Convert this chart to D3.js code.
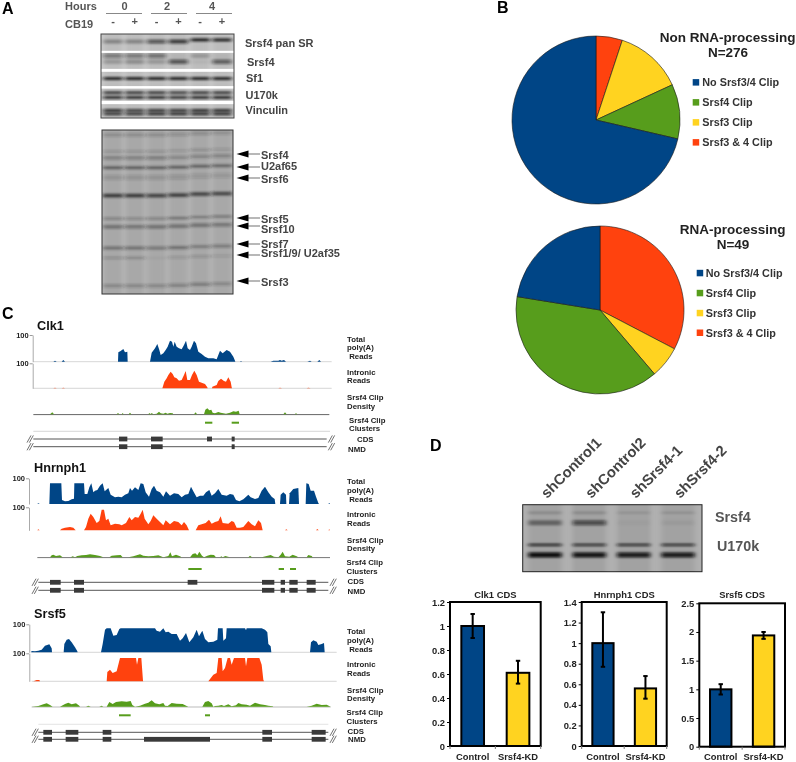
<!DOCTYPE html>
<html><head><meta charset="utf-8">
<script src="https://cdn.jsdelivr.net/npm/d3@7"></script>
<style>
html,body{margin:0;padding:0;background:#fff}
svg{display:block;filter:blur(0.35px)}
text{font-family:"Liberation Sans",Arial,sans-serif;font-weight:700}
</style></head><body>
<svg id="fig" width="796" height="762"></svg>
<script>
// ---------- Panel B data ----------
const clipCategories = ["No Srsf3/4 Clip","Srsf4 Clip","Srsf3 Clip","Srsf3 & 4 Clip"];
const clipColors = ["#004586","#579d1c","#ffd320","#ff420e"];
const pieNonRna = [197,29,36,14];
const pieRna = [11,19,3,16];

// ---------- Panel D data ----------
const barCategories = ["Control","Srsf4-KD"];
const barColors = ["#004586","#ffd320"];
const clk1Values = [1.0,0.61],    clk1Low = [0.9,0.52],   clk1High = [1.1,0.71];
const hnrnph1Values = [1.0,0.56], hnrnph1Low = [0.77,0.46], hnrnph1High = [1.3,0.68];
const srsf5Values = [1.0,1.94],   srsf5Low = [0.91,1.88], srsf5High = [1.09,2.0];
const clk1Ticks = ["0","0.2","0.4","0.6","0.8","1","1.2"];
const hnrnph1Ticks = ["0","0.2","0.4","0.6","0.8","1","1.2","1.4"];
const srsf5Ticks = ["0","0.5","1","1.5","2","2.5"];
const knockdownLanes = ["shControl1","shControl2","shSrsf4-1","shSrsf4-2"];

// ---------- Panel A data (band strength per lane; migration in % of blot height) ----------
const laneHours = ["0","2","4"];
const laneDrug = ["-","+","-","+","-","+"];
const blotRows = [
 [9,4,[.3,.3,.6,.75,.0,.0]],[7,3,[0,0,0,0,.95,.9]],
 [26,4.5,[.4,.4,.45,.05,.2,.05]],[33,4.5,[.2,.25,.2,.6,.05,.55]],
 [53,2.6,[1,1,1,1,1,1]],
 [70,2.4,[.85,.85,.85,.8,.85,.85]],[75.5,2.6,[.9,.9,.9,.85,.9,.95]],
 [91,2.6,[.9,.8,.85,.85,.9,.9]],[95,2.8,[.8,.8,.85,.85,.85,.85]]];
const blotGaps = [[20,22.5],[41.5,45],[62,65],[79.5,83.5]];
const stainRows = [
 [3,3.5,[.22,.22,.22,.2,.22,.2]],[13,2.2,[.2,.2,.22,.18,.25,.18]],[17,3.5,[.32,.32,.35,.28,.3,.28]],
 [23,2.8,[.6,.6,.6,.6,.58,.55]],[29,5,[.16,.16,.16,.16,.14,.14]],[40,3.8,[.85,.85,.8,.8,.75,.75]],
 [54,2.2,[.35,.3,.35,.5,.4,.45]],[59,3.6,[.45,.4,.45,.45,.45,.4]],
 [72,3.2,[.45,.45,.4,.45,.35,.35]],[78,2.4,[.22,.28,.05,.18,.22,.14]],[95,3.4,[.26,.26,.26,.32,.36,.26]]];
const stainShift = [0,0,0,-.5,-1.5,-2];
const blotLabels = ["Srsf4 pan SR","Srsf4","Sf1","U170k","Vinculin"];
const stainLabels = ["Srsf4","U2af65","Srsf6","Srsf5","Srsf10","Srsf7","Srsf1/9/ U2af35","Srsf3"];
const kdRows = [
 [12,2.2,[.2,.2,.12,.14]],[27,5,[.4,.6,.03,.05]],
 [60,2.4,[.85,.8,.8,.8]],[75,5,[1,.95,.9,.9]]];

// ---------- Panel C data: [genome position, track height] ----------
const clk1Total = [[160,0],[165,3],[170,0],[185,0],[190,5],[195,0],[354,0],[355,28],[362,32],[370,38],[375,28],[382,30],[383,0],
 [450,0],[451,5],[455,27],[465,40],[472,53],[478,35],[482,20],[490,25],[497,35],[503,45],[510,63],[516,60],[520,45],[524,60],[530,45],[537,40],[545,37],[552,50],[558,63],[563,40],[570,35],[575,45],[582,63],[588,55],[595,30],[605,23],[615,15],[625,10],[640,10],[650,7],[660,33],[668,25],[680,35],[690,30],[700,15],[705,3],[706,0],
 [720,0],[723,2],[726,0],[812,0],[820,3],[835,3],[840,5],[845,3],[852,5],[858,0],[922,0],[930,3],[935,0],[952,0],[958,5],[963,0]];
const clk1Intron = [[160,0],[165,2],[170,0],[185,0],[190,2],[195,0],[487,0],[488,3],[493,20],[500,30],[505,40],[512,50],[518,43],[523,33],[530,30],[537,23],[545,25],[552,40],[557,52],[562,25],[570,25],[576,40],[583,53],[590,40],[597,20],[605,17],[615,13],[622,3],[623,0],
 [636,0],[637,5],[650,10],[655,22],[663,29],[672,22],[678,20],[685,33],[692,20],[695,3],[696,0],[835,0],[840,2],[846,0],[920,0],[925,2],[932,0]];
const clk1Clip = [[150,0],[157,6],[162,0],[350,0],[354,4],[358,0],[365,0],[368,4],[371,0],[386,0],[390,5],[394,0],[445,0],[448,4],[451,1],[456,4],[459,0],[470,2],[477,8],[482,3],[490,2],[497,5],[502,2],[510,4],[518,3],[520,0],[582,0],[587,6],[591,0],[612,0],[616,14],[622,18],[628,12],[634,14],[638,5],[645,3],[655,7],[662,5],[670,3],[678,2],[690,5],[700,9],[708,8],[716,11],[719,0],[850,0],[855,6],[860,0],[885,0],[888,4],[891,0]];
const clk1Clusters = [[615,637],[695,717]];
const clk1Cds = [[357,382],[453,488],[621,636],[695,704]];
const clk1Nmd = [[357,382],[453,488],[695,704]];

const hnrnph1Total = [[112,0],[115,2],[119,0],[148,0],[150,62],[184,62],[186,12],[195,8],[205,9],[215,14],[222,16],[223,62],[252,62],[254,30],[262,30],[268,50],[274,62],[280,35],[285,40],[292,42],[300,55],[308,62],[314,38],[325,48],[332,28],[345,20],[355,22],[365,20],[375,28],[385,32],[390,48],[396,40],[405,50],[415,42],[422,62],[430,60],[437,35],[447,22],[455,45],[462,55],[470,40],[480,35],[490,22],[498,38],[510,25],[522,32],[535,30],[545,20],[555,28],[565,30],[573,52],[580,38],[590,20],[600,25],[610,25],[618,35],[628,42],[635,25],[645,32],[655,45],[665,28],[680,25],[690,30],[700,28],[708,12],[718,8],[730,14],[745,28],[752,20],[765,15],[775,18],[785,40],[795,52],[805,35],[815,22],[824,15],[826,0],[840,0],[842,28],[850,35],[858,28],[859,0],[867,0],[869,32],[880,45],[895,48],[897,0],[917,0],[919,62],[926,60],[932,40],[942,40],[948,22],[955,3],[957,0],[985,0],[988,3],[990,0]];
const hnrnph1Intron = [[112,0],[115,3],[119,0],[180,0],[185,5],[195,8],[210,10],[220,8],[227,0],[252,0],[258,10],[265,35],[272,50],[280,40],[290,22],[298,28],[305,62],[312,62],[318,30],[325,35],[332,15],[345,20],[358,18],[365,15],[378,22],[388,40],[395,30],[405,40],[415,38],[422,50],[428,62],[434,35],[445,18],[452,28],[460,45],[470,35],[480,25],[490,15],[497,30],[510,18],[522,28],[535,25],[545,15],[552,25],[560,15],[567,0],[587,0],[595,15],[605,18],[617,22],[627,32],[635,20],[645,25],[655,28],[662,42],[668,22],[685,20],[695,28],[702,25],[710,8],[720,8],[730,10],[745,28],[755,18],[765,12],[775,30],[783,22],[788,0],[855,0],[859,3],[863,0],[948,0],[952,4],[956,0],[985,0],[988,3],[990,0]];
const hnrnph1Clip = [[150,0],[155,6],[160,8],[168,4],[180,6],[188,0],[212,0],[218,3],[225,0],[232,4],[245,6],[258,7],[270,9],[285,7],[300,4],[310,0],[328,0],[335,5],[350,6],[362,7],[368,0],[385,0],[400,3],[420,9],[430,5],[445,3],[460,4],[475,6],[490,0],[505,4],[511,15],[516,3],[528,8],[540,3],[545,0],[570,0],[578,10],[586,12],[592,6],[598,17],[606,5],[612,0],[622,5],[632,8],[642,7],[648,0],[660,0],[664,3],[668,0],[676,4],[684,2],[690,0],[745,0],[750,5],[756,0],[785,0],[800,4],[812,7],[822,2],[835,0],[842,8],[848,17],[855,3],[868,2],[878,8],[890,3],[895,0],[920,0],[925,7],[935,4],[938,0]];
const hnrnph1Clusters = [[565,605],[836,852],[870,888]];
const hnrnph1Cds = [[150,182],[222,252],[563,592],[786,823],[842,855],[868,893],[920,947]];
const hnrnph1Nmd = [[150,182],[222,252],[786,823],[842,855],[868,893],[920,947]];

const srsf5Total = [[93,0],[95,4],[105,3],[115,5],[125,8],[135,20],[148,24],[155,12],[156,0],[191,0],[193,25],[200,38],[207,40],[215,30],[225,15],[232,3],[233,0],[303,0],[308,25],[315,68],[320,72],[332,72],[340,50],[350,52],[358,70],[362,72],[465,72],[470,65],[480,62],[490,72],[497,60],[505,62],[515,55],[530,55],[540,35],[548,42],[558,58],[568,30],[580,45],[590,68],[597,48],[607,65],[615,40],[625,30],[640,32],[652,38],[654,72],[668,72],[670,35],[678,42],[680,72],[735,72],[738,66],[740,72],[785,72],[795,68],[802,60],[805,25],[812,18],[814,0],[930,0],[933,30],[940,36],[950,32],[955,22],[965,25],[972,28],[974,0]];
const srsf5Intron = [[100,0],[110,4],[118,4],[120,0],[320,0],[322,28],[330,35],[338,25],[350,30],[360,70],[408,70],[411,50],[415,70],[424,70],[429,2],[430,0],[625,0],[640,20],[650,25],[655,70],[665,70],[668,30],[675,40],[683,70],[690,70],[695,50],[702,70],[735,70],[738,45],[742,70],[778,70],[785,50],[790,5],[792,0]];
const srsf5Clip = [[95,0],[115,2],[130,7],[140,10],[150,5],[158,0],[180,0],[195,8],[205,12],[215,7],[228,10],[238,3],[240,0],[258,0],[265,3],[272,0],[298,0],[305,3],[310,0],[320,0],[328,14],[338,8],[348,14],[365,16],[380,15],[392,17],[397,5],[405,0],[420,3],[435,9],[445,12],[455,19],[465,10],[478,7],[490,11],[495,3],[503,2],[515,11],[530,9],[548,8],[560,2],[565,0],[607,0],[615,14],[625,17],[635,10],[640,0],[645,2],[655,3],[665,5],[672,2],[685,7],[695,1],[708,4],[715,11],[725,7],[740,6],[750,3],[765,12],[780,7],[795,5],[805,3],[818,1],[820,0],[920,0],[935,3],[950,9],[965,5],[980,6],[992,0]];
const srsf5Clusters = [[357,392],[615,630]];
const srsf5Cds = [[130,156],[197,235],[308,334],[787,816],[935,977]];
const srsf5Nmd = [[130,156],[197,235],[308,334],[432,630],[787,816],[935,977]];

const trackLabels = ["Total","poly(A)"," Reads","Intronic","Reads","Srsf4 Clip","Density","Srsf4 Clip","Clusters","CDS","NMD"];

// ---------- Drawing ----------
const svg = d3.select("#fig");
const defs = svg.append("defs");
const blur = defs.append("filter").attr("id","bandBlur").attr("x","-20%").attr("y","-300%").attr("width","140%").attr("height","700%");
blur.append("feGaussianBlur").attr("stdDeviation","2 1");
const wash = defs.append("filter").attr("id","wash").attr("x","-30%").attr("width","160%");
wash.append("feGaussianBlur").attr("stdDeviation","2.5");

function label(parent,str,x,y,size,fill,anchor){
  return parent.append("text").text(str).attr("x",x).attr("y",y)
    .attr("dominant-baseline","central").attr("font-size",size)
    .attr("fill",fill||"#444").attr("text-anchor",anchor||"start").attr("xml:space","preserve");
}

// Panel letters
[["A",2,14],["B",497,13],["C",2,319],["D",430,451]].forEach(d=>{
  svg.append("text").text(d[0]).attr("x",d[1]).attr("y",d[2]).attr("font-size",16).attr("fill","#000");
});

// ---- Gels
let gelId = 0;
function gel(x0,x1,y0,y1,bg,laneColor,rows,laneXs,laneW,shift,bandFill){
  const id = "gel"+(gelId++);
  defs.append("clipPath").attr("id",id).append("rect").attr("x",x0).attr("y",y0).attr("width",x1-x0).attr("height",y1-y0);
  const g = svg.append("g").attr("clip-path",`url(#${id})`);
  g.append("rect").attr("x",x0).attr("y",y0).attr("width",x1-x0).attr("height",y1-y0).attr("fill",bg);
  const yS = d3.scaleLinear().domain([0,100]).range([y0,y1]);
  g.selectAll(".lane").data(laneXs).join("rect").attr("class","lane")
    .attr("x",d=>d-laneW/2).attr("width",laneW).attr("y",y0-6).attr("height",y1-y0+12)
    .attr("fill",laneColor).attr("filter","url(#wash)");
  rows.forEach(r=>{
    g.selectAll(null).data(r[2]).join("rect")
      .attr("x",(d,i)=>laneXs[i]-laneW/2).attr("width",laneW)
      .attr("y",(d,i)=>yS(r[0])-r[1]/2+(shift?shift[i]:0)).attr("height",r[1])
      .attr("fill",bandFill).attr("fill-opacity",d=>d).attr("filter","url(#bandBlur)");
  });
  return {g,yS};
}
const laneX = d3.scalePoint().domain(d3.range(6)).range([113,222]);
const lanesA = laneX.domain().map(laneX);

const blot = gel(101,234,34,118,"#cdcdcd","#bdbdbd",blotRows,lanesA,19,null,"#111");
blot.g.selectAll(".gap").data(blotGaps).join("rect").attr("class","gap")
  .attr("x",101).attr("width",133).attr("y",d=>blot.yS(d[0])).attr("height",d=>blot.yS(d[1])-blot.yS(d[0])).attr("fill","#fff");
svg.append("rect").attr("x",101).attr("y",34).attr("width",133).attr("height",84).attr("fill","none").attr("stroke","#444").attr("stroke-width",1);

gel(102,233,130,294,"#bcbcbc","#a8a8a8",stainRows,lanesA,20,stainShift,"#2a2a2a");
svg.append("rect").attr("x",102).attr("y",130).attr("width",131).attr("height",164).attr("fill","none").attr("stroke","#333").attr("stroke-width",1);

// Headers of panel A
label(svg,"Hours",65,5.7,11,"#555");
label(svg,"CB19",65,24,11,"#555");
const hourCx=[124.5,167,212], hourX0=[106,151,196], hourX1=[142,187,232];
laneHours.forEach((h,i)=>{
  label(svg,h,hourCx[i],5.7,11,"#555","middle");
  svg.append("line").attr("x1",hourX0[i]).attr("x2",hourX1[i]).attr("y1",13.5).attr("y2",13.5).attr("stroke","#888").attr("stroke-width",1);
});
laneDrug.forEach((s,i)=>label(svg,s,lanesA[i],21,11,"#555","middle"));

const blotLabelX=[245,247,246,245.5,245.5], blotLabelY=[43,62,78,94.5,110];
blotLabels.forEach((s,i)=>label(svg,s,blotLabelX[i],blotLabelY[i],11,"#444"));
const arrowY=[154,167,178,218,226,244,255,281], stainLabelY=[154.5,166,178.5,218.5,229,244,253,282];
stainLabels.forEach((s,i)=>{
  svg.append("path").attr("d",`M236.5 ${arrowY[i]}l12 -3.6v7.2z`).attr("fill","#000");
  svg.append("line").attr("x1",248).attr("x2",260).attr("y1",arrowY[i]).attr("y2",arrowY[i]).attr("stroke","#333").attr("stroke-width",.7);
  label(svg,s,261,stainLabelY[i],11,"#444");
});

// ---- Pies (slices run clockwise from the top, last category first)
function pie(values,cx,cy,r){
  const p = d3.pie().sort(null).value(d=>d.v)(values.map((v,i)=>({v,c:clipColors[i]})).reverse());
  const arc = d3.arc().innerRadius(0).outerRadius(r);
  svg.append("g").attr("transform",`translate(${cx},${cy})`).selectAll("path").data(p).join("path")
    .attr("d",arc).attr("fill",d=>d.data.c).attr("stroke","#1a1a1a").attr("stroke-width",.6).attr("stroke-linejoin","round");
}
pie(pieNonRna,596,120,84);
pie(pieRna,600,310,84);
label(svg,"Non RNA-processing",727.7,37.7,13.5,"#222","middle");
label(svg,"N=276",728,52.7,13.5,"#222","middle");
label(svg,"RNA-processing",732.7,229,13.5,"#222","middle");
label(svg,"N=49",733,244,13.5,"#222","middle");
function legend(x,tx,ys){
  clipCategories.forEach((c,i)=>{
    svg.append("rect").attr("x",x).attr("y",ys[i]-3.2).attr("width",6.5).attr("height",6.5).attr("fill",clipColors[i]);
    label(svg,c,tx,ys[i],10.8,"#333");
  });
}
legend(692.7,702.3,[82.3,102.3,122.3,142.3]);
legend(696.7,705.7,[273,293,313,332.7]);

// ---- Genome tracks
const gx = d3.scaleLinear().domain([0,1200]).range([0,400]);
function areaTrack(data,base,color){
  const y = d3.scaleLinear().domain([0,3]).range([base,base-1]);
  const a = d3.area().x(d=>gx(d[0])).y0(base).y1(d=>y(d[1]));
  const runs=[]; let cur=[];
  data.forEach((d,i)=>{cur.push(d); if(d[1]===0&&cur.length>1&&i<data.length-1&&data[i+1][1]===0){runs.push(cur);cur=[];}});
  if(cur.length)runs.push(cur);
  svg.append("g").selectAll("path").data(runs).join("path").attr("d",a).attr("fill",color);
}
function track(c){
  label(svg,c.name,c.titleX,c.titleY,12.7,"#111");
  c.lines.forEach(l=>svg.append("line").attr("x1",gx(l[0])).attr("x2",gx(l[1])).attr("y1",l[2]).attr("y2",l[2])
     .attr("stroke",l[3]).attr("stroke-width",l[4]));
  [[c.totalBase,c.totalTop],[c.intronBase,c.intronTop]].forEach(b=>{
    const y=d3.scaleLinear().domain([0,100]).range(b);
    const ax=svg.append("g").attr("transform",`translate(${c.axisX},0)`)
      .call(d3.axisLeft(y).tickValues([100]).tickSize(3).tickSizeOuter(0));
    ax.select(".domain").attr("stroke","#aaa").attr("stroke-width",1);
    ax.selectAll("line").attr("stroke","#999");
    ax.selectAll("text").attr("font-size",7.5).attr("fill","#222").attr("font-family","Liberation Sans").attr("x",-4);
  });
  areaTrack(c.total,c.totalBase,"#004586");
  areaTrack(c.intron,c.intronBase,"#ff420e");
  areaTrack(c.clip,c.clipBase,"#579d1c");
  svg.append("g").selectAll("rect").data(c.clusters).join("rect")
    .attr("x",d=>gx(d[0])).attr("width",d=>gx(d[1])-gx(d[0])).attr("y",c.clusterY-1).attr("height",2).attr("fill","#579d1c");
  [[c.cds,c.cdsY],[c.nmd,c.nmdY]].forEach(m=>{
    svg.append("line").attr("x1",gx(c.geneStart)).attr("x2",gx(c.geneEnd)).attr("y1",m[1]).attr("y2",m[1]).attr("stroke","#555").attr("stroke-width",1);
    svg.append("g").selectAll("rect").data(m[0]).join("rect")
      .attr("x",d=>gx(d[0])).attr("width",d=>gx(d[1])-gx(d[0])).attr("y",m[1]-2.4).attr("height",4.8).attr("fill","#3a3a3a");
    [c.geneStart-10,c.geneEnd+14].forEach(p=>{
      [0,7].forEach(o=>{
        svg.append("line").attr("x1",gx(p+o-9)).attr("x2",gx(p+o+3)).attr("y1",m[1]+3.6).attr("y2",m[1]-3.6).attr("stroke","#333").attr("stroke-width",.7);
      });
    });
  });
  trackLabels.forEach((s,i)=>label(svg,s,c.labelX[i],c.labelY[i],7.8,"#222"));
}
track({name:"Clk1",titleX:37,titleY:326,axisX:32.7,totalBase:361.7,totalTop:335,intronBase:388.3,intronTop:363.3,
  total:clk1Total,intron:clk1Intron,clip:clk1Clip,clipBase:414.3,clusters:clk1Clusters,clusterY:422.7,cds:clk1Cds,nmd:clk1Nmd,cdsY:439,nmdY:446.7,geneStart:100,geneEnd:980,
  lines:[[100,995,361.7,"#ccc",.8],[100,995,388.3,"#ccc",.8],[100,988,414.6,"#666",1],[100,990,431.3,"#ccc",.8]],
  labelX:[347,347,347,347,347,347,347,349,349,357,348],labelY:[339,347.7,356.3,372,380.3,397.7,406.3,420,428.7,439,449]});
track({name:"Hnrnph1",titleX:34,titleY:468,axisX:29,totalBase:504,totalTop:478.3,intronBase:530.3,intronTop:507.3,
  total:hnrnph1Total,intron:hnrnph1Intron,clip:hnrnph1Clip,clipBase:557.3,clusters:hnrnph1Clusters,clusterY:569,cds:hnrnph1Cds,nmd:hnrnph1Nmd,cdsY:582.3,nmdY:590.3,geneStart:115,geneEnd:985,
  lines:[[112,990,557.6,"#777",1]],
  labelX:[347,347,347,347,347,347,347,346.5,346.5,347.5,347.5],labelY:[481.7,490.3,499,514.7,523,540.3,548.7,562.3,571,581.7,591.7]});
track({name:"Srsf5",titleX:34,titleY:614,axisX:29.3,totalBase:652.3,totalTop:624.3,intronBase:681.3,intronTop:653.3,
  total:srsf5Total,intron:srsf5Intron,clip:srsf5Clip,clipBase:706.7,clusters:srsf5Clusters,clusterY:715.3,cds:srsf5Cds,nmd:srsf5Nmd,cdsY:732.3,nmdY:739.3,geneStart:115,geneEnd:985,
  lines:[[95,1010,652.3,"#ccc",.8],[95,1010,681.3,"#ccc",.8],[95,992,707,"#aaa",.8],[115,985,724.3,"#ddd",.8]],
  labelX:[347,347,347,347,347,347,347,346.5,346.5,347.5,348],labelY:[631.7,640.3,649,664.7,673,690.3,698.7,712.7,721.3,731.7,739.3]});

// ---- Panel D gel
const lanesD = d3.scalePoint().domain(knockdownLanes).range([545,678]);
gel(522.7,702,504.7,571.7,"#b0b0b0","#a2a2a2",kdRows,knockdownLanes.map(lanesD),33,null,"#0c0c0c");
svg.append("rect").attr("x",522.7).attr("y",504.7).attr("width",179.3).attr("height",67).attr("fill","none").attr("stroke","#222").attr("stroke-width",1);
knockdownLanes.forEach(s=>{
  svg.append("text").text(s).attr("transform",`translate(${lanesD(s)+2},499) rotate(-45)`).attr("font-size",14.8).attr("fill","#444");
});
label(svg,"Srsf4",715,516.7,14.3,"#555");
label(svg,"U170k",717,546,14.3,"#555");

// ---- Bar charts
function barChart(o){
  const x = d3.scaleBand().domain(barCategories).range([o.x0,o.x1]).paddingInner(.5).paddingOuter(.25);
  const y = d3.scaleLinear().domain([0,o.max]).range([o.y1,o.y0]);
  const g = svg.append("g");
  g.selectAll(".bar").data(o.values).join("rect").attr("class","bar")
    .attr("x",(d,i)=>x(barCategories[i])).attr("width",x.bandwidth())
    .attr("y",d=>y(d)).attr("height",d=>o.y1-y(d))
    .attr("fill",(d,i)=>barColors[i]).attr("stroke","#000").attr("stroke-width",2);
  o.values.forEach((d,i)=>{
    const cx = x(barCategories[i])+x.bandwidth()/2;
    g.append("line").attr("x1",cx).attr("x2",cx).attr("y1",y(o.low[i])).attr("y2",y(o.high[i])).attr("stroke","#000").attr("stroke-width",2);
    [o.low[i],o.high[i]].forEach(v=>g.append("line").attr("x1",cx-2.2).attr("x2",cx+2.2).attr("y1",y(v)).attr("y2",y(v)).attr("stroke","#000").attr("stroke-width",2));
  });
  g.append("rect").attr("x",o.x0).attr("y",o.y0).attr("width",o.x1-o.x0).attr("height",o.y1-o.y0)
    .attr("fill","none").attr("stroke","#000").attr("stroke-width",2);
  const ax = g.append("g").attr("transform",`translate(${o.x0},0)`)
    .call(d3.axisLeft(y).tickValues(o.ticks.map(Number)).tickFormat((d,i)=>o.ticks[i]).tickSize(3).tickSizeOuter(0));
  ax.select(".domain").remove();
  ax.selectAll("line").attr("stroke","#000").attr("stroke-width",1);
  ax.selectAll("text").attr("font-size",9.4).attr("fill","#222").attr("font-family","Liberation Sans").attr("x",-5);
  const ax2 = g.append("g").attr("transform",`translate(0,${o.y1})`)
    .call(d3.axisBottom(x).tickSize(0).tickPadding(7));
  ax2.select(".domain").remove();
  ax2.selectAll("text").attr("font-size",9.4).attr("fill","#222").attr("font-family","Liberation Sans");
  [o.x0,(o.x0+o.x1)/2,o.x1].forEach(t=>g.append("line").attr("x1",t).attr("x2",t).attr("y1",o.y1).attr("y2",o.y1+3).attr("stroke","#777").attr("stroke-width",1));
  label(g,o.title,(o.x0+o.x1)/2,594,9.4,"#222","middle");
}
barChart({title:"Clk1 CDS",x0:450,x1:540.7,y0:602,y1:746,max:1.2,values:clk1Values,low:clk1Low,high:clk1High,ticks:clk1Ticks});
barChart({title:"Hnrnph1 CDS",x0:581.7,x1:666.7,y0:602,y1:746,max:1.4,values:hnrnph1Values,low:hnrnph1Low,high:hnrnph1High,ticks:hnrnph1Ticks});
barChart({title:"Srsf5 CDS",x0:699.3,x1:785,y0:603.3,y1:746.7,max:2.5,values:srsf5Values,low:srsf5Low,high:srsf5High,ticks:srsf5Ticks});
</script></body></html>
